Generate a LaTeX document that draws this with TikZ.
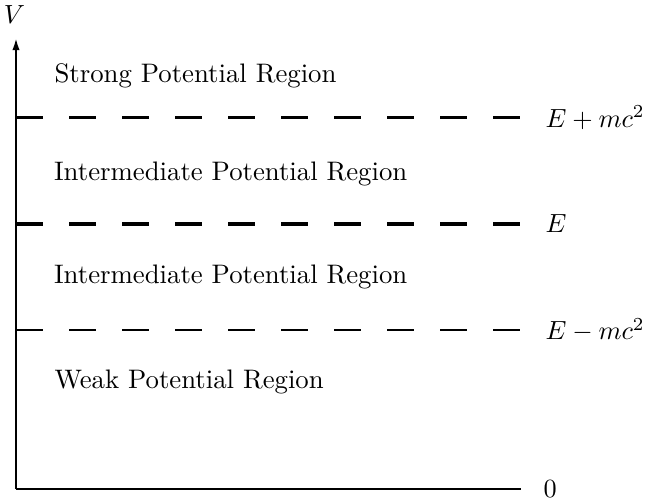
\documentclass[tikz,border=0pt]{standalone}
\usetikzlibrary{arrows.meta}
\begin{document}
\begin{tikzpicture}[x=0.381pt,y=-0.381pt,
  every node/.style={font=\fontsize{10.2pt}{12pt}\selectfont},
  axisline/.style={line width=0.8pt},
  level/.style={line width=0.8pt,dash pattern=on 10.3pt off 9.9pt},
  levelE/.style={line width=1.2pt,dash pattern=on 10.3pt off 9.9pt},
  region/.style={anchor=base west,inner sep=0pt},
  endlabel/.style={anchor=west,inner sep=0pt}]
\useasboundingbox (0,0) rectangle (646,504);
\coordinate (O) at (16,489);
\coordinate (top) at (16,38);
\coordinate (xend) at (521,489);
\coordinate (a1) at (16,117.5);
\coordinate (a2) at (521,117.5);
\coordinate (b1) at (16,224);
\coordinate (b2) at (521,224);
\coordinate (c1) at (16,330);
\coordinate (c2) at (521,330);
\draw[axisline,-{Latex[length=4.6pt,width=2.8pt]}] (O) -- (top);
\draw[axisline] (O) -- (xend);
\draw[level] (a1) -- (a2);
\draw[levelE] (b1) -- (b2);
\draw[level] (c1) -- (c2);
\node[anchor=base,inner sep=0pt] (V) at (14.5,24) {$V$};
\node[endlabel] (zero) at (543,489) {$0$};
\node[endlabel] (Ep) at (545,117.5) {$E+mc^2$};
\node[endlabel] (E) at (545,224) {$E$};
\node[endlabel] (Em) at (545,330) {$E-mc^2$};
\node[region] (strong) at (54,83) {Strong Potential Region};
\node[region] (inter1) at (53.5,181) {Intermediate Potential Region};
\node[region] (inter2) at (53.5,284) {Intermediate Potential Region};
\node[region] (weak) at (54,389) {Weak Potential Region};
\end{tikzpicture}
\end{document}
